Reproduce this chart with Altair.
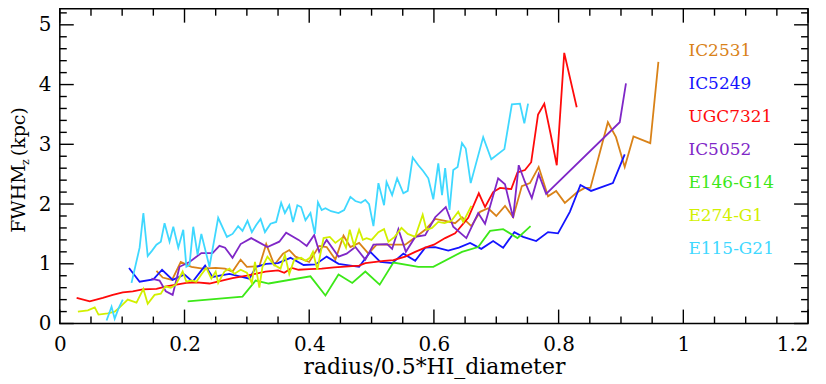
import altair as alt
import pandas as pd

names = ["IC2531", "IC5249", "UGC7321", "IC5052", "E146-G14", "E274-G1", "E115-G21"]
colors = ["#d98218", "#1414ff", "#ff0a0a", "#7f27c7", "#3ce818", "#d2f000", "#3fd8ff"]

ic2531_x = [0.155,0.165,0.18,0.194,0.211,0.229,0.25,0.265,0.277,0.29,0.3,0.32,0.331,0.344,0.358,0.368,0.378,0.4,0.416,0.428,0.442,0.455,0.466,0.48,0.495,0.508,0.53,0.554,0.567,0.586,0.602,0.618,0.634,0.645,0.66,0.674,0.687,0.7,0.714,0.727,0.741,0.754,0.768,0.783,0.796,0.81,0.83,0.842,0.851,0.879,0.892,0.906,0.92,0.947,0.96]
ic2531_y = [0.88,0.77,0.73,1.03,0.95,0.92,0.93,0.92,0.87,1.07,0.95,0.96,1.33,0.98,1.17,1.23,1.12,1.03,1.3,1.28,1.07,1.47,1.28,1.35,1.17,1.32,1.32,1.32,1.42,1.57,1.75,1.72,1.68,1.78,1.63,1.87,1.93,1.8,1.97,1.78,2.3,2.35,2.62,2.13,2.22,2.02,2.2,2.27,2.27,3.37,3.12,2.62,3.13,3.02,4.38]

ic5249_x = [0.111,0.128,0.15,0.164,0.181,0.2,0.213,0.233,0.245,0.272,0.304,0.315,0.331,0.35,0.37,0.391,0.41,0.428,0.447,0.48,0.498,0.514,0.533,0.551,0.57,0.586,0.602,0.623,0.64,0.658,0.676,0.695,0.711,0.729,0.743,0.764,0.783,0.799,0.818,0.835,0.852,0.887,0.906]
ic5249_y = [0.93,0.7,0.74,0.9,0.73,0.82,0.7,0.97,0.78,0.83,0.75,0.95,1.0,1.01,1.1,0.98,0.99,1.12,1.0,0.95,1.2,1.03,1.01,1.17,1.05,1.27,1.28,1.22,1.27,1.35,1.25,1.38,1.27,1.53,1.45,1.38,1.53,1.51,1.87,2.32,2.22,2.35,2.83]

ugc7321_x = [0.027,0.048,0.069,0.085,0.101,0.117,0.133,0.155,0.171,0.187,0.203,0.22,0.24,0.26,0.277,0.3,0.33,0.35,0.36,0.372,0.383,0.4,0.42,0.44,0.452,0.48,0.49,0.52,0.535,0.554,0.57,0.586,0.6,0.618,0.634,0.655,0.672,0.682,0.695,0.706,0.724,0.734,0.746,0.756,0.767,0.777,0.787,0.797,0.809,0.829]
ugc7321_y = [0.43,0.37,0.43,0.48,0.52,0.54,0.57,0.58,0.62,0.65,0.68,0.69,0.67,0.72,0.76,0.8,0.87,0.89,0.85,0.93,0.9,0.91,0.92,0.94,0.95,0.97,1.01,1.05,1.06,1.12,1.2,1.27,1.32,1.43,1.51,1.77,2.18,1.95,2.2,2.27,2.25,2.53,2.57,2.7,3.5,3.68,3.18,2.65,4.53,3.62]

ic5052_x = [0.147,0.16,0.17,0.181,0.192,0.208,0.227,0.245,0.256,0.265,0.277,0.29,0.307,0.333,0.352,0.363,0.383,0.396,0.408,0.416,0.428,0.447,0.46,0.474,0.49,0.503,0.525,0.533,0.543,0.555,0.57,0.586,0.602,0.619,0.631,0.652,0.671,0.682,0.703,0.714,0.727,0.736,0.746,0.757,0.768,0.78,0.898,0.908]
ic5052_y = [0.75,0.72,0.54,0.48,0.95,1.03,1.18,1.18,1.3,1.27,1.1,1.33,1.43,1.28,1.37,1.52,1.4,1.3,1.48,1.2,1.4,1.12,1.17,1.28,1.07,1.32,1.33,1.25,1.58,1.2,1.45,1.48,1.78,1.95,1.62,1.43,1.85,1.67,2.43,2.33,1.77,2.65,2.37,2.1,2.5,2.17,3.37,4.02]

e146_x = [0.205,0.293,0.314,0.335,0.402,0.426,0.447,0.469,0.49,0.513,0.535,0.575,0.599,0.645,0.671,0.69,0.711,0.734,0.755]
e146_y = [0.37,0.45,0.72,0.67,0.79,0.47,0.82,0.68,0.87,0.65,1.02,0.95,0.95,1.2,1.28,1.55,1.58,1.43,1.63]

e274_x = [0.029,0.045,0.056,0.062,0.077,0.088,0.096,0.109,0.123,0.134,0.141,0.152,0.162,0.169,0.178,0.186,0.192,0.197,0.203,0.211,0.219,0.227,0.235,0.243,0.25,0.254,0.264,0.272,0.28,0.29,0.3,0.308,0.313,0.32,0.325,0.333,0.344,0.354,0.361,0.368,0.376,0.387,0.394,0.401,0.406,0.413,0.423,0.433,0.442,0.452,0.459,0.465,0.472,0.48,0.486,0.492,0.5,0.511,0.52,0.527,0.537,0.548,0.558,0.57,0.582,0.588,0.597,0.607,0.617,0.628,0.639,0.647,0.66]
e274_y = [0.2,0.22,0.27,0.15,0.17,0.2,0.27,0.4,0.35,0.58,0.33,0.48,0.5,0.62,0.6,0.65,0.77,0.87,0.7,0.72,0.7,0.82,0.93,0.75,0.87,0.68,0.87,0.92,0.83,0.9,0.85,0.68,1.03,0.6,0.95,1.12,0.98,0.92,1.15,0.83,1.07,1.1,1.05,1.1,1.2,0.9,1.43,1.45,1.35,1.43,1.27,1.57,1.3,1.57,1.4,1.43,1.4,1.53,1.58,1.37,1.45,1.6,1.5,1.45,1.82,1.57,1.6,1.7,1.68,1.72,1.87,1.7,1.97]

e115_x = [0.075,0.083,0.088,0.094,0.101,0.115,0.128,0.134,0.141,0.148,0.155,0.162,0.168,0.176,0.182,0.19,0.198,0.203,0.208,0.214,0.221,0.227,0.24,0.254,0.268,0.277,0.286,0.293,0.301,0.308,0.315,0.322,0.329,0.338,0.347,0.355,0.361,0.368,0.374,0.381,0.387,0.394,0.402,0.409,0.414,0.42,0.426,0.435,0.447,0.456,0.466,0.474,0.483,0.49,0.496,0.503,0.511,0.52,0.524,0.533,0.541,0.551,0.558,0.566,0.575,0.583,0.591,0.599,0.607,0.613,0.618,0.625,0.631,0.638,0.645,0.651,0.659,0.679,0.692,0.713,0.725,0.738,0.745,0.751]
e115_y = [0.05,0.28,0.08,0.25,0.4,0.68,1.27,1.85,1.13,1.22,1.32,1.37,1.68,1.37,1.62,1.27,1.57,0.95,0.98,1.62,1.15,1.5,0.95,1.77,1.45,1.5,1.63,1.55,1.72,1.53,1.65,1.75,1.53,1.67,1.7,2.02,1.85,1.98,1.7,1.98,1.95,1.73,1.85,1.5,2.03,1.9,1.93,1.88,1.85,1.9,2.12,2.05,2.02,2.07,2.0,1.63,2.35,1.98,2.37,2.15,2.43,2.18,2.22,2.78,2.65,2.55,2.43,2.08,2.68,2.15,2.6,1.9,2.57,2.62,3.02,2.93,2.35,3.12,2.75,2.92,3.67,3.68,3.35,3.68]
e115_break = 5  # the E115-G21 profile has a gap after its 5th point

x_major = [0, 0.2, 0.4, 0.6, 0.8, 1, 1.2]
x_minor = [0.05, 0.1, 0.15, 0.25, 0.3, 0.35, 0.45, 0.5, 0.55, 0.65, 0.7, 0.75, 0.85, 0.9, 0.95, 1.05, 1.1, 1.15]
y_major = [0, 1, 2, 3, 4, 5]
y_minor = [0.2, 0.4, 0.6, 0.8, 1.2, 1.4, 1.6, 1.8, 2.2, 2.4, 2.6, 2.8, 3.2, 3.4, 3.6, 3.8, 4.2, 4.4, 4.6, 4.8, 5.2]

series = [
    ("IC2531", ic2531_x, ic2531_y, None),
    ("IC5249", ic5249_x, ic5249_y, None),
    ("UGC7321", ugc7321_x, ugc7321_y, None),
    ("IC5052", ic5052_x, ic5052_y, None),
    ("E146-G14", e146_x, e146_y, None),
    ("E274-G1", e274_x, e274_y, None),
    ("E115-G21", e115_x, e115_y, e115_break),
]

rows = []
for name, xs, ys, brk in series:
    assert len(xs) == len(ys), name
    for i, (xv, yv) in enumerate(zip(xs, ys)):
        part = name + ("_b" if (brk is not None and i >= brk) else "_a")
        rows.append({"galaxy": name, "part": part, "idx": i, "r": xv, "fwhm": yv})
df = pd.DataFrame(rows)

W, H = 751, 316
X0, X1, Y0, Y1 = 0.0, 1.2, 0.0, 5.27
MAJ, MIN = 14, 7                       # tick lengths in pixels
px_x = (X1 - X0) / W                   # data units per pixel
px_y = (Y1 - Y0) / H

# tick segments (frame ticks pointing inwards) built from the tick value lists
seg = []
for vals, ln in ((x_major, MAJ), (x_minor, MIN)):
    for v in vals:
        seg.append({"r": v, "r2": v, "fwhm": Y0, "fwhm2": Y0 + ln * px_y})
        seg.append({"r": v, "r2": v, "fwhm": Y1, "fwhm2": Y1 - ln * px_y})
for vals, ln in ((y_major, MAJ), (y_minor, MIN)):
    for v in vals:
        seg.append({"r": X0, "r2": X0 + ln * px_x, "fwhm": v, "fwhm2": v})
        seg.append({"r": X1, "r2": X1 - ln * px_x, "fwhm": v, "fwhm2": v})
ticks_df = pd.DataFrame(seg)

xscale = alt.Scale(domain=[X0, X1], nice=False, zero=False)
yscale = alt.Scale(domain=[Y0, Y1], nice=False, zero=False)

xaxis = alt.Axis(orient="bottom", values=x_major, title="radius/0.5*HI_diameter",
                 ticks=False, labelPadding=11, labelFlush=False, format="~g",
                 labelAlign={"expr": "datum.value > 1.1 ? 'right' : 'center'"},
                 titlePadding=2)
yaxis = alt.Axis(orient="left", values=y_major, title=None, ticks=False,
                 labelPadding=9, format="~g")

ticks = alt.Chart(ticks_df).mark_rule(color="black", strokeWidth=1.4).encode(
    x=alt.X("r:Q", scale=xscale, axis=xaxis),
    x2="r2:Q",
    y=alt.Y("fwhm:Q", scale=yscale, axis=yaxis),
    y2="fwhm2:Q",
)

lines = alt.Chart(df).mark_line(strokeWidth=1.8).encode(
    x=alt.X("r:Q", scale=xscale, axis=xaxis),
    y=alt.Y("fwhm:Q", scale=yscale, axis=yaxis),
    color=alt.Color("galaxy:N", scale=alt.Scale(domain=names, range=colors),
        legend=alt.Legend(title=None, orient="none", legendX=614, legendY=34,
            direction="vertical", symbolSize=0, symbolStrokeWidth=0, symbolOpacity=0,
            labelOffset=0, padding=0, rowPadding=15.1, labelFont="DejaVu Serif",
            labelFontSize=17, labelLimit=0,
            labelColor={"expr": "scale('color', datum.value)"})),
    detail="part:N",
    order="idx:Q",
)

def ytitle(txt, px, py, size):
    return alt.Chart(pd.DataFrame({"t": [txt]})).mark_text(
        angle=270, align="left", baseline="alphabetic", font="DejaVu Serif",
        fontSize=size, color="black").encode(
        x=alt.value(px), y=alt.value(py), text="t:N")

t1 = ytitle("FWHM", -35, 225, 19)
t2 = ytitle("z", -31, 157, 11)
t3 = ytitle("(kpc)", -35, 148, 19)

chart = alt.layer(ticks, lines, t1, t2, t3).properties(
    width=W, height=H,
    autosize=alt.AutoSizeParams(type="none"),
    padding={"left": 52, "top": 0, "right": 10, "bottom": 60},
).configure_axis(
    labelFont="DejaVu Serif", labelFontSize=20, labelColor="black",
    titleFont="DejaVu Serif", titleFontSize=22, titleFontWeight="normal",
    titleColor="black", domain=False, grid=False,
).configure_view(stroke="black", strokeWidth=1.5)

chart.save("out.html", embed_options={"renderer": "svg", "actions": False})
